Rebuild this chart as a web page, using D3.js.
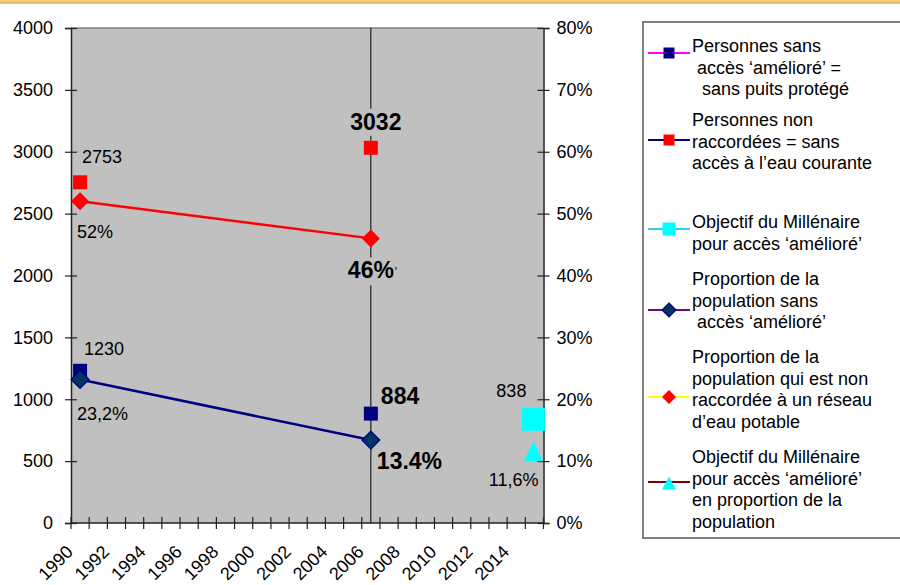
<!DOCTYPE html>
<html><head><meta charset="utf-8">
<script src="https://cdn.jsdelivr.net/npm/d3@7"></script>
<style>body{margin:0;background:#fff;}svg{display:block;font-family:"Liberation Sans",Arial,sans-serif;}</style>
</head><body>
<svg id="c" width="900" height="585"></svg>
<script>
// ---- data ----
const years = [1990,1991,1992,1993,1994,1995,1996,1997,1998,1999,2000,2001,2002,2003,2004,2005,2006,2007,2008,2009,2010,2011,2012,2013,2014,2015];
const tickLabels = ["1990","1992","1994","1996","1998","2000","2002","2004","2006","2008","2010","2012","2014"];
const obsYears = [1990, 2006];
const sansAmeliore = [1230, 884];          // navy squares (left axis)
const nonRaccordees = [2753, 3032];        // red squares (left axis)
const propSansAmeliore = [0.232, 0.134];   // navy diamonds (right axis)
const propNonRaccordee = [0.52, 0.46];     // red diamonds (right axis)
const objectifYears = [2015];
const objectif = [838];                    // cyan square
const objectifProp = [0.116];              // cyan triangle
const leftTicks = [0,500,1000,1500,2000,2500,3000,3500,4000];
const rightTicks = [0,0.1,0.2,0.3,0.4,0.5,0.6,0.7,0.8];
const legendItems = [
  {lines:["Personnes sans"," accès ‘amélioré’ =","  sans puits protégé"], line:"#ff00ff", marker:"square", fill:"#000080"},
  {lines:["Personnes non","raccordées = sans","accès à l’eau courante"], line:"#000080", marker:"square", fill:"#ff0000"},
  {lines:["Objectif du Millénaire","pour accès ‘amélioré’"], line:"#33ccff", marker:"bigsquare", fill:"#00ffff"},
  {lines:["Proportion de la","population sans"," accès ‘amélioré’"], line:"#800080", marker:"diamond", fill:"#003366"},
  {lines:["Proportion de la","population qui est non","raccordée à un réseau","d’eau potable"], line:"#ffff00", marker:"diamond", fill:"#ff0000"},
  {lines:["Objectif du Millénaire","pour accès ‘amélioré’","en proportion de la","population"], line:"#800000", marker:"triangle", fill:"#00ffff"}
];

// ---- layout ----
const svg = d3.select("#c");
const L = 71, R = 543.5, T = 28, B = 523;
const x = d3.scaleBand().domain(years).range([L, R]);
const cx = yr => x(yr) + x.bandwidth()/2;
const y = d3.scaleLinear().domain([0,4000]).range([B, T]);
const y2 = d3.scaleLinear().domain([0,0.8]).range([B, T]);

// top band
svg.append("rect").attr("x",0).attr("y",0).attr("width",900).attr("height",2.5).attr("fill","#ffcc66");
svg.append("line").attr("x1",0).attr("x2",900).attr("y1",3).attr("y2",3).attr("stroke","#b08a40").attr("stroke-width",1);

// plot area
svg.append("rect").attr("x",L).attr("y",T).attr("width",R-L).attr("height",B-T).attr("fill","#c0c0c0");
svg.append("line").attr("x1",L).attr("x2",R).attr("y1",T).attr("y2",T).attr("stroke","#808080").attr("stroke-width",1.5);

// vertical line at 2006
svg.append("line").attr("x1",cx(2006)).attr("x2",cx(2006)).attr("y1",T).attr("y2",B).attr("stroke","#000").attr("stroke-width",1);

// axes
const gl = svg.append("g").attr("transform",`translate(${L},0)`)
  .call(d3.axisLeft(y).tickValues(leftTicks).tickSize(6).tickPadding(12).tickFormat(d3.format("d")));
gl.selectAll(".tick line").attr("x1",-6).attr("x2",6);
const gr = svg.append("g").attr("transform",`translate(${R},0)`)
  .call(d3.axisRight(y2).tickValues(rightTicks).tickSize(6).tickPadding(7).tickFormat(d3.format(".0%")));
gr.selectAll(".tick line").attr("x1",-6).attr("x2",6);
[gl,gr].forEach(g=>{
  g.select(".domain").attr("stroke","#222").attr("stroke-width",1.5);
  g.selectAll("text").attr("font-size",18).attr("fill","#000").attr("font-family","Liberation Sans, Arial, sans-serif");
  g.selectAll(".tick line").attr("stroke","#222").attr("stroke-width",1.2);
});
// x axis
svg.append("line").attr("x1",L).attr("x2",R).attr("y1",B).attr("y2",B).attr("stroke","#222").attr("stroke-width",1.5);
const bounds = years.map(d=>x(d)).concat([R]);
svg.append("g").selectAll("line").data(bounds).join("line")
  .attr("x1",d=>d).attr("x2",d=>d).attr("y1",B-6).attr("y2",B+6).attr("stroke","#222").attr("stroke-width",1.2);
svg.append("g").selectAll("text").data(tickLabels).join("text")
  .attr("transform",d=>`translate(${cx(+d)-6},553) rotate(-45)`)
  .attr("text-anchor","end").attr("font-size",18).text(d=>d);

// lines
const lineR = d3.line().x(d=>cx(d[0])).y(d=>y2(d[1]));
svg.append("path").datum(obsYears.map((yr,i)=>[yr,propNonRaccordee[i]])).attr("d",lineR)
  .attr("fill","none").attr("stroke","#ff0000").attr("stroke-width",2.5);
svg.append("path").datum(obsYears.map((yr,i)=>[yr,propSansAmeliore[i]])).attr("d",lineR)
  .attr("fill","none").attr("stroke","#000080").attr("stroke-width",2.5);

// marker helpers
function square(g, X, Y, s, fill, stroke){ g.append("rect").attr("x",X-s/2).attr("y",Y-s/2).attr("width",s).attr("height",s).attr("fill",fill).attr("stroke",stroke||"none"); }
function diamond(g, X, Y, r, fill, stroke){ g.append("path").attr("d",`M${X},${Y-r}L${X+r},${Y}L${X},${Y+r}L${X-r},${Y}Z`).attr("fill",fill).attr("stroke",stroke||"none").attr("stroke-width",1.2); }
function triangle(g, X, Y, w, h, fill){ g.append("path").attr("d",`M${X},${Y-h/2}L${X+w/2},${Y+h/2}L${X-w/2},${Y+h/2}Z`).attr("fill",fill); }

const mk = svg.append("g");
obsYears.forEach((yr,i)=>{
  square(mk, cx(yr), y(nonRaccordees[i]), 14, "#ff0000");
  square(mk, cx(yr), y(sansAmeliore[i]), 14, "#000080");
  diamond(mk, cx(yr), y2(propNonRaccordee[i]), 9, "#ff0000");
  diamond(mk, cx(yr), y2(propSansAmeliore[i]), 9, "#003366", "#000080");
});
objectifYears.forEach((yr,i)=>{
  square(mk, cx(yr)-1, y(objectif[i]), 23, "#00ffff");
  triangle(mk, cx(yr)-1, y2(objectifProp[i]), 19, 20, "#00ffff");
});

// data labels
const lab = svg.append("g");
function label(t, X, Y, opt){
  opt = opt||{};
  if(opt.bg){
    lab.append("rect").attr("x",opt.bg[0]).attr("y",opt.bg[1]).attr("width",opt.bg[2]).attr("height",opt.bg[3]).attr("fill","#c0c0c0");
  }
  lab.append("text").attr("x",X).attr("y",Y).attr("font-size",opt.size||18)
    .attr("font-weight",opt.bold?"bold":"normal").attr("text-anchor",opt.anchor||"start").text(t);
}
const c0 = cx(obsYears[0]), c1 = cx(obsYears[1]), c2 = cx(objectifYears[0]);
label(String(nonRaccordees[0]), c0+2, y(nonRaccordees[0])-19);
label(d3.format(".0%")(propNonRaccordee[0]), c0-3, y2(propNonRaccordee[0])+37);
label(String(sansAmeliore[0]), c0+4, y(sansAmeliore[0])-16);
label("23,2%", c0-3, y2(propSansAmeliore[0])+41);
label(String(nonRaccordees[1]), c1+5, y(nonRaccordees[1])-18, {bold:true,size:23,anchor:"middle",bg:[c1-24,y(nonRaccordees[1])-39,58,27]});
label(d3.format(".0%")(propNonRaccordee[1]), c1-23, y2(propNonRaccordee[1])+40, {bold:true,size:23,bg:[c1-25,y2(propNonRaccordee[1])+19,58,28]});
lab.append("text").attr("x",c1+24).attr("y",y2(propNonRaccordee[1])+38).attr("font-size",12).text("'");
label(String(sansAmeliore[1]), c1+10, y(sansAmeliore[1])-10, {bold:true,size:23});
label("13.4%", c1+6, y2(propSansAmeliore[1])+29, {bold:true,size:23});
label(String(objectif[0]), c2-8, y(objectif[0])-22, {anchor:"end"});
label("11,6%", c2+4, y2(objectifProp[0])+35, {anchor:"end"});

// stray text
svg.append("text").attr("x",886).attr("y",317).attr("font-size",18).text("io");

// legend
const lg = svg.append("g");
lg.append("rect").attr("x",643).attr("y",22).attr("width",270).attr("height",516).attr("fill","#fff").attr("stroke","#808080").attr("stroke-width",2);
const markerY = [53,140,229,310,397,482];
const firstBase = [52,126,228,285,363,463];
legendItems.forEach((it,i)=>{
  const my = markerY[i];
  lg.append("line").attr("x1",648).attr("x2",690).attr("y1",my).attr("y2",my).attr("stroke",it.line).attr("stroke-width",2);
  if(it.marker==="square") square(lg, 669, my, 11, it.fill);
  if(it.marker==="bigsquare") square(lg, 669, my, 13, it.fill);
  if(it.marker==="diamond") diamond(lg, 669, my, 7, it.fill, it.fill==="#003366"?"#000080":null);
  if(it.marker==="triangle") triangle(lg, 669, my+1, 14, 13, it.fill);
  it.lines.forEach((t,j)=>{
    lg.append("text").attr("x",692).attr("y",firstBase[i]+j*21.7).attr("font-size",18)
      .attr("xml:space","preserve").style("white-space","pre").text(t);
  });
});
</script>
</body></html>
